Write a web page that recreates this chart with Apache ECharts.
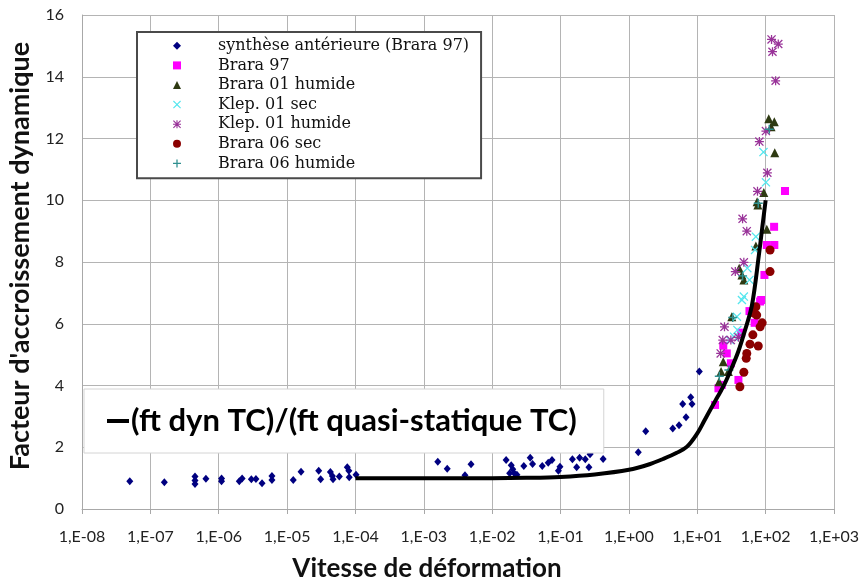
<!DOCTYPE html>
<html>
<head>
<meta charset="utf-8">
<script src="https://cdn.jsdelivr.net/npm/echarts@6/dist/echarts.min.js"></script>
<style>
  html, body { margin: 0; padding: 0; background: #fff; }
  #chart { width: 861px; height: 583px; }
</style>
</head>
<body>
<div id="chart"></div>
<script>
// Strain-rate axis labels (one per decade, 1e-8 .. 1e+3)
const rateTickLabels = ['1,E-08', '1,E-07', '1,E-06', '1,E-05', '1,E-04', '1,E-03',
  '1,E-02', '1,E-01', '1,E+00', '1,E+01', '1,E+02', '1,E+03'];

// synthèse antérieure (Brara 97)
const synthRate = [5.0e-8, 1.6e-7, 4.5e-7, 4.5e-7, 4.5e-7, 6.5e-7, 1.1e-6, 1.1e-6, 2.0e-6, 2.2e-6,
  3.0e-6, 3.5e-6, 4.3e-6, 6.0e-6, 6.0e-6, 1.23e-5, 1.6e-5, 2.9e-5, 3.1e-5, 4.3e-5,
  4.6e-5, 4.7e-5, 5.8e-5, 7.6e-5, 8.0e-5, 8.1e-5, 1.02e-4, 1.6e-3, 2.2e-3, 4.0e-3,
  4.9e-3, 1.6e-2, 1.9e-2, 2.0e-2, 1.8e-2, 2.1e-2, 2.3e-2, 2.9e-2, 3.6e-2, 3.9e-2,
  5.4e-2, 6.6e-2, 7.5e-2, 9.3e-2, 9.8e-2, 0.149, 0.172, 0.19, 0.23, 0.26,
  0.27, 0.29, 0.42, 1.37, 1.76, 4.38, 5.41, 6.85, 6.12, 8.02, 8.37, 10.7];
const synthFactor = [0.90, 0.87, 1.05, 0.92, 0.81, 0.98, 0.99, 0.90, 0.90, 0.99,
  0.96, 0.97, 0.83, 1.07, 0.94, 0.94, 1.21, 1.24, 0.96, 1.20,
  1.07, 0.96, 1.05, 1.35, 1.24, 1.03, 1.11, 1.53, 1.30, 1.09,
  1.45, 1.59, 1.42, 1.29, 1.16, 1.16, 1.11, 1.39, 1.66, 1.46,
  1.39, 1.50, 1.59, 1.24, 1.37, 1.61, 1.35, 1.66, 1.61, 1.35,
  1.77, 1.89, 1.62, 1.84, 2.52, 2.61, 2.71, 2.97, 3.40, 3.62, 3.40, 4.45];

// Brara 97
const brara97Rate = [192, 133, 104, 134, 96, 83, 86, 69, 58, 44, 24, 27, 31, 40, 20.4, 22.8, 18.2];
const brara97Factor = [10.30, 9.14, 8.55, 8.55, 7.58, 6.72, 6.77, 6.03, 6.41, 5.71, 5.29, 5.04, 4.72, 4.18, 3.91, 4.02, 3.37];

// Brara 01 humide
const brara01hRate = [111, 134, 120, 136, 94, 75, 77, 104, 72, 41, 45, 48, 32, 24, 22.3, 28.5, 20.8];
const brara01hFactor = [12.64, 12.54, 12.38, 11.54, 10.25, 9.95, 9.85, 9.06, 8.52, 7.80, 7.58, 7.42, 6.23, 4.77, 4.45, 4.45, 4.12];

// Klep. 01 sec
const klep01sRate = [93, 101, 72, 70, 54, 58, 48, 45, 38, 38.6, 34.5, 30];
const klep01sFactor = [11.56, 10.58, 8.82, 8.39, 7.80, 7.42, 6.88, 6.77, 6.23, 5.80, 5.58, 5.47];

// Klep. 01 humide
const klep01hRate = [122, 153, 126, 140, 101, 81, 106, 76, 46, 53, 48, 36, 25, 23.6, 31, 40, 22];
const klep01hFactor = [15.21, 15.06, 14.81, 13.87, 12.24, 11.90, 10.89, 10.29, 9.40, 9.00, 7.99, 7.69, 5.90, 5.47, 5.47, 5.56, 5.04];

// Brara 06 sec
const brara06sRate = [116, 116, 72, 68, 74, 89, 83, 65, 59, 78, 53, 52, 48, 42];
const brara06sFactor = [8.39, 7.69, 6.55, 6.34, 6.28, 6.03, 5.90, 5.64, 5.34, 5.28, 5.04, 4.88, 4.43, 3.96];

// Brara 06 humide
const brara06hRate = [113, 78, 46, 33, 29, 21];
const brara06hFactor = [12.3, 9.9, 7.55, 6.2, 4.5, 4.3];

// (ft dyn TC)/(ft quasi-statique TC) curve
const curveRate = [1e-4, 1e-3, 1e-2, 0.0316, 0.1, 0.316, 1, 2, 3.16, 5.01, 7.08, 10,
  12.6, 15.8, 20, 25.1, 31.6, 39.8, 50.1, 63.1, 79.4, 89.1, 100];
const curveFactor = [1.0, 1.0, 1.0, 1.01, 1.04, 1.12, 1.27, 1.45, 1.62, 1.82, 2.02, 2.45,
  2.85, 3.25, 3.65, 4.05, 4.55, 5.1, 5.8, 6.6, 8.2, 9.1, 10.0];

const zip = (xs, ys) => xs.map((x, i) => [x, ys[i]]);

const SYM_X = 'path://M1,0L5,4L9,0L10,1L6,5L10,9L9,10L5,6L1,10L0,9L4,5L0,1Z';
const SYM_PLUS = 'path://M4.2,0H5.8V4.2H10V5.8H5.8V10H4.2V5.8H0V4.2H4.2Z';
const SYM_STAR = 'path://M4.3,0H5.7V10H4.3Z M0,4.3H10V5.7H0Z M1,0L5,4L9,0L10,1L6,5L10,9L9,10L5,6L1,10L0,9L4,5L0,1Z';

const CURVE_NAME = '(ft dyn TC)/(ft quasi-statique TC)';
const scatterDefs = [
  { name: 'synthèse antérieure (Brara 97)', data: zip(synthRate, synthFactor), symbol: 'diamond', size: [7, 8], color: '#000080' },
  { name: 'Brara 97', data: zip(brara97Rate, brara97Factor), symbol: 'rect', size: 8, color: '#ff00ff' },
  { name: 'Brara 01 humide', data: zip(brara01hRate, brara01hFactor), symbol: 'triangle', size: 9, color: '#2e3a12' },
  { name: 'Klep. 01 sec', data: zip(klep01sRate, klep01sFactor), symbol: SYM_X, size: 9, color: '#55e6ee' },
  { name: 'Klep. 01 humide', data: zip(klep01hRate, klep01hFactor), symbol: SYM_STAR, size: 9, color: '#993399' },
  { name: 'Brara 06 sec', data: zip(brara06sRate, brara06sFactor), symbol: 'circle', size: 9, color: '#8b0000' },
  { name: 'Brara 06 humide', data: zip(brara06hRate, brara06hFactor), symbol: SYM_PLUS, size: 9, color: '#2f9090' }
];

const series = scatterDefs.map(d => ({
  name: d.name,
  type: 'scatter',
  data: d.data,
  symbol: d.symbol,
  symbolSize: d.size,
  itemStyle: { color: d.color, opacity: 1 },
  z: 2
}));
series.push({
  name: CURVE_NAME,
  type: 'line',
  data: zip(curveRate, curveFactor),
  showSymbol: false,
  symbol: 'none',
  smooth: 0.35,
  lineStyle: { color: '#000', width: 4 },
  itemStyle: { color: '#000' },
  z: 5
});

const chart = echarts.init(document.getElementById('chart'), null, { renderer: 'canvas' });
chart.setOption({
  animation: false,
  backgroundColor: '#ffffff',
  grid: { left: 82, right: 27, top: 15, bottom: 74, containLabel: false, outerBoundsMode: 'none' },
  legend: [
    {
      data: scatterDefs.map(d => ({ name: d.name, icon: d.symbol })),
      orient: 'vertical',
      left: 137, top: 32,
      padding: [4, 12, 5, 36],
      itemWidth: 8, itemHeight: 8, itemGap: 0,
      selectedMode: false,
      backgroundColor: '#ffffff',
      borderColor: '#4a4a4a', borderWidth: 2,
      textStyle: { fontFamily: 'DejaVu Serif', fontSize: 16, color: '#111', lineHeight: 19.6, padding: [0, 0, 0, 32] }
    },
    {
      data: [{ name: CURVE_NAME, icon: 'rect' }],
      orient: 'horizontal',
      left: 84, top: 389,
      padding: [13, 27, 13, 23],
      itemWidth: 22, itemHeight: 4,
      selectedMode: false,
      backgroundColor: '#ffffff',
      borderColor: '#d4d4d4', borderWidth: 1,
      textStyle: { fontFamily: 'Lato', fontWeight: 'bold', fontSize: 31, color: '#000', lineHeight: 38, padding: [0, 0, 0, -3] }
    }
  ],
  xAxis: {
    type: 'log',
    logBase: 10,
    min: 1e-8, max: 1e3,
    interval: 1,
    splitNumber: 11,
    name: 'Vitesse de déformation',
    nameLocation: 'middle',
    nameGap: 47,
    nameTextStyle: { fontFamily: 'Lato', fontWeight: 'bold', fontSize: 26, color: '#111', padding: [0, 62, 0, 0] },
    axisLine: { lineStyle: { color: '#a8a8a8', width: 1 } },
    axisTick: { show: true, length: 5, lineStyle: { color: '#a8a8a8' } },
    splitLine: { show: true, lineStyle: { color: '#b4b4b4', width: 1 } },
    minorTick: { show: false },
    axisLabel: {
      margin: 20,
      fontFamily: 'Lato', fontSize: 16, color: '#222',
      formatter: v => rateTickLabels[Math.round(Math.log10(v)) + 8] || ''
    }
  },
  yAxis: {
    type: 'value',
    min: 0, max: 16, interval: 2,
    name: "Facteur d'accroissement dynamique",
    nameLocation: 'middle',
    nameGap: 48,
    nameTextStyle: { fontFamily: 'Lato', fontWeight: 'bold', fontSize: 27, color: '#111', padding: [0, 0, 0, 12] },
    axisLine: { show: true, lineStyle: { color: '#a8a8a8', width: 1 } },
    axisTick: { show: false },
    splitLine: { show: true, lineStyle: { color: '#b4b4b4', width: 1 } },
    axisLabel: { margin: 18, fontFamily: 'Lato', fontSize: 16, color: '#222' }
  },
  series: series
});
</script>
</body>
</html>
